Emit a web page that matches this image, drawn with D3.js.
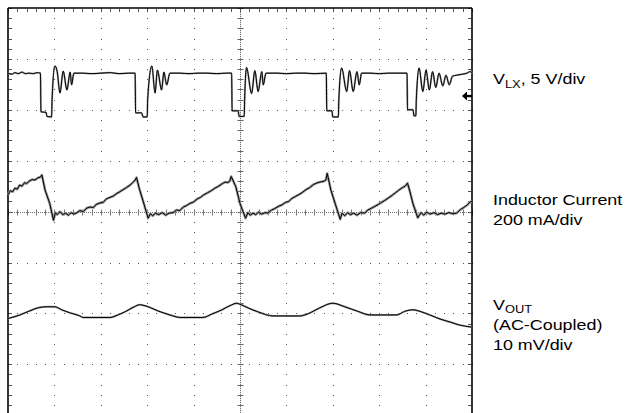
<!DOCTYPE html>
<html><head><meta charset="utf-8">
<script src="https://cdn.jsdelivr.net/npm/d3@7/dist/d3.min.js"></script>
<style>body{margin:0;background:#fff}svg{display:block}</style>
</head><body>
<svg id="c" width="638" height="413"></svg>
<script>
// time in divisions (0..10), amplitude in divisions from screen centre (-4..4)
const vlx = [[0,2.72],[0.08,2.70],[0.15,2.73],[0.22,2.71],[0.3,2.74],[0.38,2.71],[0.45,2.72],[0.55,2.71],[0.62,2.73],[0.70,2.72],
 [0.71,1.96],[0.82,1.95],[0.84,1.87],[0.94,1.86],[0.95,2.20],[1.01,2.86],[1.06,2.75],[1.12,2.33],[1.19,2.76],[1.27,2.39],[1.34,2.74],[1.37,2.49],[1.42,2.72],
 [1.6,2.72],[1.8,2.71],[2.0,2.72],[2.2,2.73],[2.4,2.71],[2.6,2.72],[2.74,2.72],
 [2.75,1.94],[2.88,1.94],[2.91,1.86],[3.00,1.86],[3.01,2.20],[3.10,2.86],[3.17,2.33],[3.22,2.78],[3.31,2.39],[3.36,2.74],[3.42,2.49],[3.49,2.72],
 [3.7,2.72],[3.9,2.71],[4.1,2.72],[4.3,2.72],[4.5,2.71],[4.7,2.72],[4.82,2.72],
 [4.83,1.98],[4.96,1.98],[4.98,1.87],[5.09,1.87],[5.10,2.20],[5.14,2.83],[5.25,2.32],[5.32,2.77],[5.39,2.36],[5.47,2.75],[5.50,2.49],[5.56,2.72],
 [5.8,2.72],[6.0,2.71],[6.2,2.72],[6.4,2.72],[6.6,2.71],[6.86,2.72],
 [6.87,1.98],[6.98,1.98],[7.00,1.86],[7.12,1.86],[7.13,2.20],[7.19,2.82],[7.30,2.36],[7.36,2.77],[7.44,2.36],[7.52,2.75],[7.57,2.49],[7.62,2.72],
 [7.8,2.72],[8.0,2.71],[8.2,2.72],[8.4,2.72],[8.60,2.72],
 [8.61,2.00],[8.73,2.00],[8.75,1.88],[8.79,1.88],[8.80,2.20],[8.86,2.82],[8.94,2.36],[9.01,2.78],[9.08,2.39],[9.15,2.75],[9.22,2.44],[9.29,2.72],[9.37,2.47],[9.44,2.68],[9.51,2.49],[9.58,2.66],[9.67,2.68],[9.8,2.70],[9.89,2.72],[9.96,2.75],[10,2.72]];

const inductor = [[0,0.33],[0.05,0.41],[0.1,0.39],[0.15,0.46],[0.2,0.44],[0.25,0.52],[0.3,0.50],[0.36,0.57],[0.4,0.55],[0.46,0.60],[0.52,0.63],[0.58,0.62],[0.64,0.66],[0.7,0.68],[0.73,0.72],
 [0.8,0.42],[0.9,0.16],[0.98,-0.17],
 [1.02,-0.02],[1.06,-0.06],[1.12,0.0],[1.18,-0.06],[1.24,-0.03],[1.3,-0.07],[1.36,-0.02],[1.42,-0.05],[1.49,-0.02],
 [1.55,0.02],[1.62,0.00],[1.7,0.07],[1.77,0.09],[1.84,0.08],[1.9,0.14],[1.98,0.17],[2.05,0.18],[2.12,0.25],[2.2,0.28],[2.28,0.31],[2.35,0.36],[2.41,0.39],[2.48,0.43],[2.55,0.47],[2.63,0.52],[2.7,0.58],[2.74,0.62],[2.77,0.67],
 [2.83,0.45],[2.93,0.15],[3.02,-0.13],
 [3.07,-0.04],[3.12,-0.08],[3.18,-0.03],[3.25,-0.06],[3.32,-0.02],[3.4,-0.07],[3.47,-0.03],[3.56,-0.02],
 [3.63,0.03],[3.7,0.02],[3.78,0.09],[3.85,0.12],[3.92,0.16],[4.0,0.19],[4.08,0.25],[4.15,0.28],[4.22,0.33],[4.3,0.37],[4.38,0.41],[4.46,0.46],[4.54,0.50],[4.62,0.55],[4.68,0.58],[4.74,0.57],[4.78,0.60],[4.81,0.69],
 [4.91,0.49],[5.0,0.16],[5.12,-0.13],
 [5.17,-0.02],[5.22,-0.07],[5.28,-0.03],[5.34,-0.06],[5.4,-0.01],[5.47,-0.05],[5.54,-0.02],[5.6,-0.03],
 [5.68,0.03],[5.75,0.06],[5.82,0.10],[5.9,0.13],[5.98,0.18],[6.05,0.20],[6.12,0.26],[6.2,0.30],[6.28,0.34],[6.35,0.38],[6.42,0.43],[6.5,0.47],[6.58,0.53],[6.65,0.56],[6.72,0.58],[6.79,0.59],[6.85,0.62],[6.88,0.75],
 [6.96,0.42],[7.05,0.16],[7.16,-0.15],
 [7.2,-0.03],[7.26,-0.08],[7.32,-0.02],[7.38,-0.06],[7.45,-0.03],[7.52,-0.07],[7.6,-0.02],[7.69,-0.03],
 [7.75,0.03],[7.82,0.06],[7.9,0.10],[7.98,0.14],[8.05,0.18],[8.12,0.22],[8.2,0.27],[8.28,0.32],[8.35,0.37],[8.42,0.42],[8.5,0.47],[8.56,0.50],[8.61,0.56],
 [8.66,0.40],[8.73,0.15],[8.83,-0.12],
 [8.9,-0.02],[8.96,-0.07],[9.02,-0.01],[9.1,-0.05],[9.18,-0.02],[9.26,-0.06],[9.34,-0.03],[9.42,-0.05],[9.5,-0.02],[9.58,-0.04],[9.67,-0.03],
 [9.75,0.04],[9.82,0.08],[9.9,0.13],[9.96,0.19],[10,0.20]];

const vout = [[0,-2.10],[0.26,-2.03],[0.47,-1.95],[0.65,-1.89],[0.83,-1.87],[1.01,-1.87],[1.16,-1.93],[1.34,-1.99],[1.55,-2.05],[1.62,-2.08],[2.2,-2.08],[2.37,-2.03],[2.54,-1.96],[2.72,-1.87],[2.84,-1.83],[3.02,-1.87],[3.23,-1.95],[3.49,-2.03],[3.71,-2.08],[4.2,-2.08],[4.40,-2.01],[4.61,-1.93],[4.78,-1.85],[4.93,-1.80],[5.0,-1.82],[5.17,-1.89],[5.39,-1.97],[5.71,-2.05],[6.29,-2.05],[6.51,-1.99],[6.72,-1.89],[7.0,-1.80],[7.26,-1.87],[7.54,-1.96],[7.80,-2.03],[8.38,-2.03],[8.55,-1.96],[8.73,-1.93],[8.88,-1.96],[9.09,-2.03],[9.31,-2.11],[9.53,-2.17],[9.74,-2.23],[10,-2.27]];

const groundMarker = [2.27];
const xDivisions = 10, yDivisions = 8, minorPerDiv = 5;

const svg = d3.select("#c");
const x = d3.scaleLinear().domain([0, xDivisions]).range([8, 472]);
const y = d3.scaleLinear().domain([-yDivisions/2, yDivisions/2]).range([415.2, 8]);

const g = svg.append("g");
const dotColor = "#555";
const minorX = d3.range(0, xDivisions*minorPerDiv+1).map(i => i/minorPerDiv);
const minorY = d3.range(0, yDivisions*minorPerDiv+1).map(i => -yDivisions/2 + i/minorPerDiv);
const majorX = d3.range(1, xDivisions).filter(v => v !== xDivisions/2);
const majorY = d3.range(-yDivisions/2+1, yDivisions/2).filter(v => v !== 0);
majorY.forEach(my => minorX.forEach(mx => {
  g.append("rect").attr("x", Math.round(x(mx))).attr("y", Math.round(y(my))).attr("width",1).attr("height",1).attr("fill",dotColor);
}));
majorX.forEach(mx => minorY.forEach(my => {
  g.append("rect").attr("x", Math.round(x(mx))).attr("y", Math.round(y(my))).attr("width",1).attr("height",1).attr("fill",dotColor);
}));
g.append("line").attr("x1",x(0)).attr("x2",x(xDivisions)).attr("y1",Math.round(y(0))+0.5).attr("y2",Math.round(y(0))+0.5)
  .attr("stroke","#777").attr("stroke-width",1).attr("stroke-dasharray","1,1");
g.append("line").attr("y1",y(-yDivisions/2)).attr("y2",y(yDivisions/2)).attr("x1",Math.round(x(5))+0.5).attr("x2",Math.round(x(5))+0.5)
  .attr("stroke","#555").attr("stroke-width",1).attr("stroke-dasharray","1,1");
minorX.forEach(mx => {
  const cy = Math.round(y(0))+0.5;
  g.append("line").attr("x1",Math.round(x(mx))+0.5).attr("x2",Math.round(x(mx))+0.5).attr("y1",cy-3).attr("y2",cy+3).attr("stroke","#777");
  g.append("line").attr("x1",Math.round(x(mx))+0.5).attr("x2",Math.round(x(mx))+0.5).attr("y1",9).attr("y2",12).attr("stroke",dotColor);
});
minorY.forEach(my => {
  const cx = Math.round(x(5))+0.5;
  const yy = Math.round(y(my))+0.5;
  g.append("line").attr("x1",cx-3).attr("x2",cx+3).attr("y1",yy).attr("y2",yy).attr("stroke","#666");
  g.append("line").attr("x1",9).attr("x2",12).attr("y1",yy).attr("y2",yy).attr("stroke",dotColor);
  g.append("line").attr("x1",468).attr("x2",471).attr("y1",yy).attr("y2",yy).attr("stroke",dotColor);
});
g.append("line").attr("x1",x(0)).attr("x2",x(0)).attr("y1",y(4)).attr("y2",413).attr("stroke","#000").attr("stroke-width",1.6);
g.append("line").attr("x1",x(10)).attr("x2",x(10)).attr("y1",y(4)).attr("y2",413).attr("stroke","#000").attr("stroke-width",1.6);
g.append("line").attr("x1",x(0)).attr("x2",x(10)).attr("y1",y(4)).attr("y2",y(4)).attr("stroke","#000").attr("stroke-width",1.4);

// traces
const smooth = d3.line().x(d => x(d[0])).y(d => y(d[1])).curve(d3.curveMonotoneX);
const straight = d3.line().x(d => x(d[0])).y(d => y(d[1]));
[[vlx, smooth, 1.9], [inductor, straight, 2.6], [vout, smooth, 2.0]].forEach(([data, gen, gw]) => {
  svg.append("path").attr("d", gen(data)).attr("fill","none").attr("stroke","#999").attr("stroke-width",gw).attr("stroke-linejoin","round");
  svg.append("path").attr("d", gen(data)).attr("fill","none").attr("stroke","#000").attr("stroke-width",1.0).attr("stroke-linejoin","round");
});

groundMarker.forEach(v => {
  const my = y(v), rx = x(10);
  svg.append("path").attr("d", `M${rx-10},${my} L${rx-5},${my-4.5} L${rx-5},${my+4.5} Z`).attr("fill","#000");
  svg.append("rect").attr("x", rx-5).attr("y", my-1.2).attr("width",5).attr("height",2.4).attr("fill","#000");
});

const font = "'Liberation Sans', Arial, Helvetica, sans-serif";
function label(yb, build) {
  const t = svg.append("text").attr("transform", `translate(493,${yb}) scale(1.17,1)`)
    .attr("font-family", font).attr("font-size", 15.3).attr("fill", "#000");
  build(t);
}
label(84, t => { t.append("tspan").text("V"); t.append("tspan").attr("font-size",11).attr("dy",4).text("LX"); t.append("tspan").attr("dy",-4).text(", 5 V/div"); });
label(205, t => t.text("Inductor Current"));
label(224.5, t => t.text("200 mA/div"));
label(310, t => { t.append("tspan").text("V"); t.append("tspan").attr("font-size",11).attr("dy",3).text("OUT"); });
label(330, t => t.text("(AC-Coupled)"));
label(349.5, t => t.text("10 mV/div"));
</script>
</body></html>
